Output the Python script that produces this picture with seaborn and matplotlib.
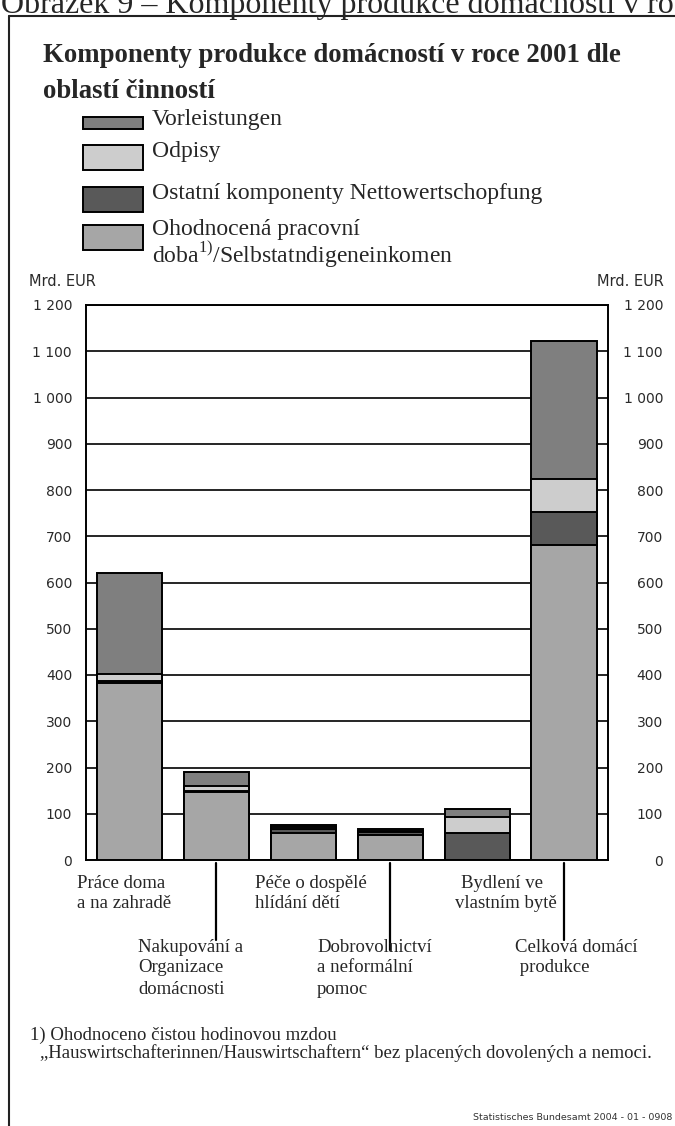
import numpy as np
import pandas as pd
import matplotlib
matplotlib.use("Agg")
import matplotlib.pyplot as plt
import seaborn as sns
from matplotlib.patches import Rectangle
from matplotlib.lines import Line2D

# data (Mrd. EUR)
categories = ["Práce doma a na zahradě",
              "Nakupování a Organizace domácnosti",
              "Péče o dospělé hlídání dětí",
              "Dobrovolnictví a neformální pomoc",
              "Bydlení ve vlastním bytě",
              "Celková domácí produkce"]
ohodnocena = [383, 147, 58, 54, 0, 682]
ostatni = [5, 3, 10, 7, 58, 70]
odpisy = [15, 10, 3, 2, 34, 71]
vorleistungen = [217, 31, 5, 3, 18, 299]

series_names = ["Vorleistungen", "Odpisy", "Ostatní komponenty Nettowertschopfung",
                "Ohodnocená pracovní"]
series_colors = ["#7f7f7f", "#cdcdcd", "#595959", "#a6a6a6"]

ytick_values = list(range(0, 1300, 100))
ytick_labels = ["0", "100", "200", "300", "400", "500", "600", "700", "800",
                "900", "1 000", "1 100", "1 200"]

W, H = 675, 1126


def fx(px):
    return px / W


def fy(py):
    return 1 - py / H


sns.set_style("white")
plt.rcParams["font.family"] = ["Liberation Serif", "DejaVu Serif"]
plt.rcParams["mathtext.fontset"] = "custom"
plt.rcParams["mathtext.rm"] = "Liberation Serif"

df = pd.DataFrame({"kat": categories, "ohod": ohodnocena, "ost": ostatni,
                   "odp": odpisy, "vorl": vorleistungen})
df["c1"] = df["ohod"]
df["c2"] = df["c1"] + df["ost"]
df["c3"] = df["c2"] + df["odp"]
df["c4"] = df["c3"] + df["vorl"]

fig = plt.figure(figsize=(W / 100, H / 100), dpi=100)
ax = fig.add_axes([fx(86), fy(860), (607.5 - 86) / W, (860 - 305) / H])

# stacked bars: draw cumulative totals from the top down
for col, color in zip(["c4", "c3", "c2", "c1"], series_colors):
    sns.barplot(data=df, x="kat", y=col, color=color, saturation=1, width=0.75,
                edgecolor="black", linewidth=1.4, errorbar=None, ax=ax, zorder=3)

ax.set_ylim(0, 1200)
ax.set_xlim(-0.5, 5.5)
ax.set_xlabel("")
ax.set_ylabel("")
ax.grid(axis="y", color="black", linewidth=1.2)
ax.set_axisbelow(True)
for s in ax.spines.values():
    s.set_visible(True)
    s.set_color("black")
    s.set_linewidth(1.4)

ax.set_xticks(np.arange(-0.5, 6, 1))
ax.set_xticklabels([])
ax.tick_params(axis="x", direction="out", length=7, width=1.3, color="black")

tick_font = dict(family="DejaVu Sans", fontsize=10, color="#2a2a2a")
ax.set_yticks(ytick_values)
ax.set_yticklabels(ytick_labels, **tick_font)
ax.tick_params(axis="y", length=0, pad=10)

# right hand scale, labels right aligned
ax2 = ax.twinx()
ax2.set_ylim(ax.get_ylim())
ax2.set_yticks(ytick_values)
ax2.set_yticklabels(ytick_labels, ha="right", **tick_font)
ax2.tick_params(axis="y", length=0, pad=40)
for s in ax2.spines.values():
    s.set_visible(False)

fig.text(fx(29), fy(282), "Mrd. EUR", va="center", **dict(tick_font, fontsize=10.5))
fig.text(fx(664), fy(282), "Mrd. EUR", va="center", ha="right", **dict(tick_font, fontsize=10.5))

# frame and clipped caption at the very top
fig.add_artist(Line2D([fx(9), fx(9)], [fy(16), fy(1130)], color="#222222", lw=1.5))
fig.add_artist(Line2D([fx(9), fx(680)], [fy(16), fy(16)], color="#222222", lw=1.5))
fig.text(fx(1), fy(13), "Obrázek 9 – Komponenty produkce domácnosti v roce 2001",
         fontsize=23, va="baseline")

# title
fig.text(fx(43), fy(55), "Komponenty produkce domácností v roce 2001 dle",
         fontsize=19.3, fontweight="bold", va="center")
fig.text(fx(43), fy(92), "oblastí činností", fontsize=19.3, fontweight="bold", va="center")

# legend
legend_boxes = [(116.7, 129.3), (145, 170), (186.7, 211.7), (225, 250)]
legend_text_y = [120, 152, 193, 230]
for (y0, y1), color, name, ty in zip(legend_boxes, series_colors, series_names, legend_text_y):
    fig.add_artist(Rectangle((fx(83), fy(y1)), (143 - 83) / W, (y1 - y0) / H,
                             facecolor=color, edgecolor="black", lw=1.4,
                             transform=fig.transFigure))
    fig.text(fx(152), fy(ty), name, fontsize=17, va="center")
fig.text(fx(152), fy(255), r"doba$^{\mathrm{1)}}$/Selbstatndigeneinkomen",
         fontsize=17, va="center")

# category labels
label_size = 13.5
row1 = [(77, ["Práce doma", "a na zahradě"]),
        (255, ["Péče o dospělé", "hlídání dětí"]),
        (461, ["Bydlení ve"]),
        (455, [None, "vlastním bytě"])]
for x, lines in row1:
    for ln, y in zip(lines, [883, 903]):
        if ln:
            fig.text(fx(x), fy(y), ln, fontsize=label_size, va="center")
row2 = [(138, ["Nakupování a", "Organizace", "domácnosti"]),
        (317, ["Dobrovolnictví", "a neformální", "pomoc"]),
        (515, ["Celková domácí", " produkce"])]
for x, lines in row2:
    for ln, y in zip(lines, [948, 968, 989]):
        fig.text(fx(x), fy(y), ln, fontsize=label_size, va="center")

# leader lines from the axis to the lower row of labels
for idx, yend in [(1, 940), (3, 950), (5, 940)]:
    xpix = 86 + (idx + 0.5) * (607.5 - 86) / 6
    fig.add_artist(Line2D([fx(xpix), fx(xpix)], [fy(863), fy(yend)], color="black", lw=1.6))

# footnote
fig.text(fx(30), fy(1035), "1) Ohodnoceno čistou hodinovou mzdou", fontsize=label_size, va="center")
fig.text(fx(40), fy(1053),
         "„Hauswirtschafterinnen/Hauswirtschaftern“ bez placených dovolených a nemoci.",
         fontsize=label_size, va="center")
fig.text(fx(672), fy(1118), "Statistisches Bundesamt 2004 - 01 - 0908",
         family="DejaVu Sans", fontsize=6.8, color="#333333", va="center", ha="right")

fig.savefig("out.png", dpi=100)
